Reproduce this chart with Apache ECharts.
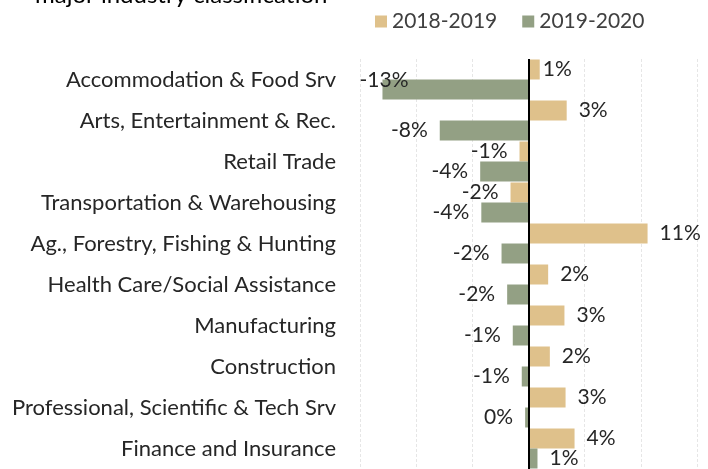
<!DOCTYPE html>
<html>
<head>
<meta charset="utf-8">
<script src="https://cdn.jsdelivr.net/npm/echarts@6/dist/echarts.min.js"></script>
<style>html,body{margin:0;padding:0;background:#fff}#c{width:708px;height:469px}</style>
</head>
<body>
<div id="c"></div>
<script>
const categories = [
  "Accommodation & Food Srv",
  "Arts, Entertainment & Rec.",
  "Retail Trade",
  "Transportation & Warehousing",
  "Ag., Forestry, Fishing & Hunting",
  "Health Care/Social Assistance",
  "Manufacturing",
  "Construction",
  "Professional, Scientific & Tech Srv",
  "Finance and Insurance"
];
const seriesNames = ["2018-2019", "2019-2020"];
const values2018 = [1.0, 3.4, -0.8, -1.6, 10.6, 1.75, 3.2, 1.9, 3.3, 4.1];
const values2019 = [-13.0, -7.9, -4.3, -4.2, -2.4, -1.9, -1.4, -0.6, -0.3, 0.8];
const titleText = "major industry classification";

const FONT = "Lato";
const fmt = p => { const r = Math.round(p.value); return (r === 0 ? 0 : r) + "%"; };
function build(vals) {
  return vals.map(v => ({ value: v, label: { position: v < 0 ? "left" : "right" } }));
}
const d1 = build(values2018);
const d2 = build(values2019);
d1[0].label.distance = 3;
d2[0].label.offset = [38, -9];

const chart = echarts.init(document.getElementById("c"), null, { renderer: "canvas" });
chart.setOption({
  animation: false,
  backgroundColor: "#fff",
  title: {
    text: titleText, left: 30, top: -22,
    textStyle: { fontFamily: FONT, fontSize: 24, fontWeight: "normal", color: "#000" }
  },
  legend: {
    data: seriesNames, left: 370, top: 6, itemWidth: 12, itemHeight: 12, itemGap: 25,
    icon: "rect",
    textStyle: { fontFamily: FONT, fontSize: 21, color: "#404040" }
  },
  grid: { left: 360, top: 59, width: 337, height: 412, containLabel: false },
  xAxis: {
    type: "value", min: -15, max: 15, interval: 5,
    axisLabel: { show: false }, axisLine: { show: false }, axisTick: { show: false },
    splitLine: { show: true, lineStyle: { color: "#e6e6e6", width: 1, type: [3, 2] } }
  },
  yAxis: {
    type: "category", data: categories, inverse: true,
    axisLine: { show: false }, axisTick: { show: false },
    axisLabel: { margin: 24, fontFamily: FONT, fontSize: 22, color: "#262626" }
  },
  series: [
    {
      name: seriesNames[0], type: "bar", data: d1, barWidth: 20, barGap: "0%",
      itemStyle: { color: "#dfc18b" },
      label: { show: true, distance: 12, formatter: fmt, fontFamily: FONT, fontSize: 21, color: "#262626" },
      markLine: {
        silent: true, symbol: "none", label: { show: false },
        lineStyle: { color: "#000", width: 2, type: "solid" },
        data: [{ xAxis: 0 }]
      }
    },
    {
      name: seriesNames[1], type: "bar", data: d2, barWidth: 20, barGap: "0%",
      itemStyle: { color: "#93a084" },
      label: { show: true, distance: 12, formatter: fmt, fontFamily: FONT, fontSize: 21, color: "#262626" }
    }
  ]
});
</script>
</body>
</html>
